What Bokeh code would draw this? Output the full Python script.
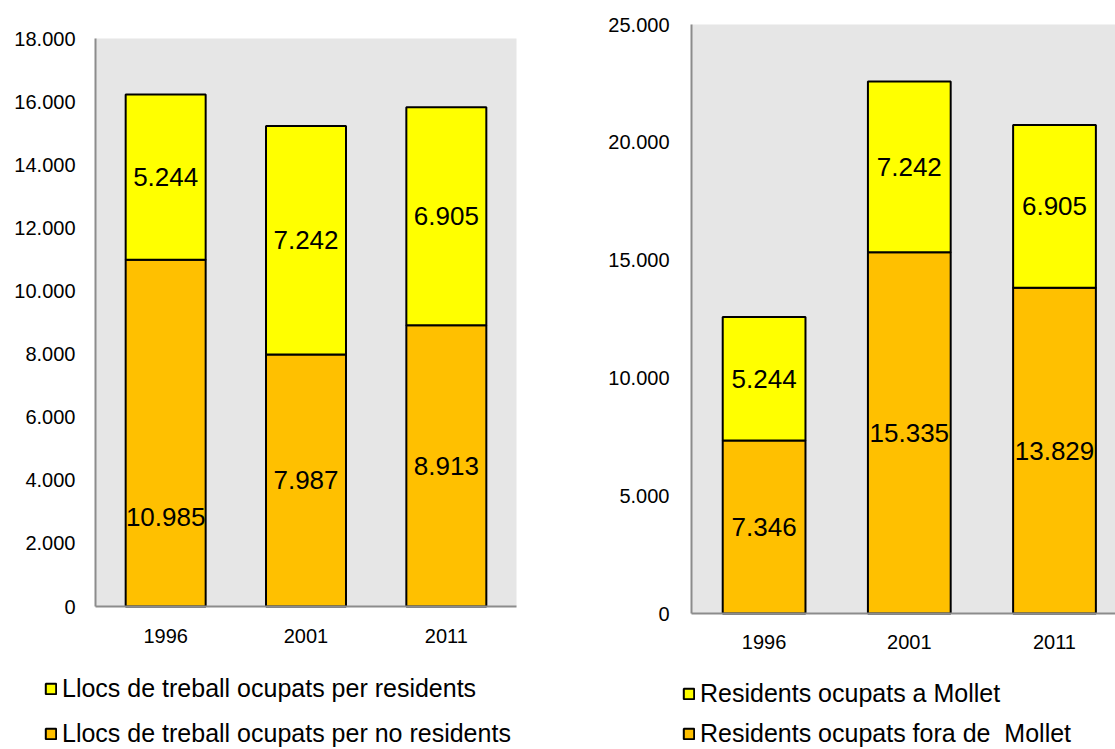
from bokeh.plotting import figure
from bokeh.models import (Range1d, FixedTicker, Legend, LegendItem,
                          ColumnDataSource, LinearAxis)
from bokeh.core.properties import value
from bokeh.embed import file_html
from bokeh.resources import INLINE

# ---------------- data ----------------
years = ["1996", "2001", "2011"]

left_residents = [5244, 7242, 6905]          # yellow (top)
left_non_residents = [10985, 7987, 8913]     # orange (bottom)
left_ticks = [0, 2000, 4000, 6000, 8000, 10000, 12000, 14000, 16000, 18000]
left_legend = ["Llocs de treball ocupats per residents",
               "Llocs de treball ocupats per no residents"]

right_in_mollet = [5244, 7242, 6905]         # yellow (top)
right_outside = [7346, 15335, 13829]         # orange (bottom)
right_ticks = [0, 5000, 10000, 15000, 20000, 25000]
right_legend = ["Residents ocupats a Mollet",
                "Residents ocupats fora de  Mollet"]

# label pixel nudges (style only): the 1996 bottom label of the left chart sits lower
left_bottom_label_dy = [84, 0, 0]
zero_dy = [0, 0, 0]

# ---------------- layout / style ----------------
W, H = 1115, 749
YELLOW = "#FFFF00"
ORANGE = "#FFC000"
BG = "#E6E6E6"
AXIS = "#8C8C8C"
FONT = "Liberation Sans"

LEFT_BOX = dict(px_left=95, px_right=516, px_top=38, px_bottom=606)
RIGHT_BOX = dict(px_left=691, px_right=691 + 3 * 145.2, px_top=24, px_bottom=613)


def fmt(v):
    return f"{v:,}".replace(",", ".")


def ranges(box, ncat, ymax):
    ppu = (box["px_right"] - box["px_left"]) / ncat
    xr = Range1d(-box["px_left"] / ppu, (W - box["px_left"]) / ppu)
    ppv = (box["px_bottom"] - box["px_top"]) / ymax
    yr = Range1d(-(H - box["px_bottom"]) / ppv, box["px_bottom"] / ppv)
    return xr, yr


xl, yl = ranges(LEFT_BOX, len(years), left_ticks[-1])
xr, yr = ranges(RIGHT_BOX, len(years), right_ticks[-1])

p = figure(frame_width=W, frame_height=H, min_border=0,
           x_range=xl, y_range=yl,
           x_axis_location=None, y_axis_location=None,
           output_backend="svg", toolbar_location=None)
p.extra_x_ranges = {"xr": xr}
p.extra_y_ranges = {"yr": yr}
p.title_location = None
p.background_fill_color = "white"
p.border_fill_color = "white"
p.outline_line_color = None
p.xgrid.visible = False
p.ygrid.visible = False


def chart(bottom_vals, top_vals, ticks, legend_labels, *, xname, yname,
          bottom_dy, x_standoff, y_standoff, legend_loc, legend_spacing):
    n = len(years)
    xs = [i + 0.5 for i in range(n)]
    tops = [b + t for b, t in zip(bottom_vals, top_vals)]
    src = ColumnDataSource(dict(
        x=xs, b=bottom_vals, t=tops, zero=[0] * n,
        yb=[b / 2 for b in bottom_vals],
        yt=[(b + tt) / 2 for b, tt in zip(bottom_vals, tops)],
        lb=[fmt(v) for v in bottom_vals], lt=[fmt(v) for v in top_vals],
        dyb=bottom_dy,
    ))
    rn = dict(x_range_name=xname, y_range_name=yname)

    # plot-area background
    p.quad(left=0, right=n, bottom=0, top=ticks[-1], fill_color=BG,
           line_color=None, **rn)

    r_bottom = p.vbar(x="x", width=0.57, bottom="zero", top="b", source=src,
                      fill_color=ORANGE, line_color="black", line_width=2, **rn)
    r_top = p.vbar(x="x", width=0.57, bottom="b", top="t", source=src,
                   fill_color=YELLOW, line_color="black", line_width=2, **rn)

    p.text(x="x", y="yb", text="lb", y_offset="dyb", source=src,
           text_align="center", text_baseline="middle",
           text_font=value(FONT), text_font_size="26px", text_color="black", **rn)
    p.text(x="x", y="yt", text="lt", source=src,
           text_align="center", text_baseline="middle",
           text_font=value(FONT), text_font_size="26px", text_color="black", **rn)

    yax = LinearAxis(fixed_location=0, bounds=(0, ticks[-1]),
                     ticker=FixedTicker(ticks=ticks),
                     major_label_overrides={t: fmt(t) for t in ticks},
                     major_label_standoff=y_standoff, **rn)
    xax = LinearAxis(fixed_location=0, bounds=(0, n),
                     ticker=FixedTicker(ticks=xs),
                     major_label_overrides={x: y for x, y in zip(xs, years)},
                     major_label_standoff=x_standoff, **rn)
    for ax in (xax, yax):
        ax.axis_line_color = AXIS
        ax.axis_line_width = 2
        ax.major_tick_line_color = None
        ax.minor_tick_line_color = None
        ax.major_tick_out = 0
        ax.major_tick_in = 0
        ax.minor_tick_out = 0
        ax.minor_tick_in = 0
        ax.major_label_text_font = FONT
        ax.major_label_text_font_size = "20px"
        ax.major_label_text_color = "black"
    p.add_layout(yax, "left")
    p.add_layout(xax, "below")

    legend = Legend(items=[LegendItem(label=legend_labels[0], renderers=[r_top]),
                           LegendItem(label=legend_labels[1], renderers=[r_bottom])],
                    location=legend_loc, orientation="vertical",
                    glyph_width=13, glyph_height=13, label_standoff=5,
                    label_height=28,
                    spacing=legend_spacing, padding=0, margin=0,
                    border_line_color=None, background_fill_alpha=0,
                    label_text_font=FONT, label_text_font_size="25px",
                    label_text_color="black")
    p.add_layout(legend, "center")


chart(left_non_residents, left_residents, left_ticks, left_legend,
      xname="default", yname="default", bottom_dy=left_bottom_label_dy,
      x_standoff=22, y_standoff=20, legend_loc=(44, 1), legend_spacing=16)

chart(right_outside, right_in_mollet, right_ticks, right_legend,
      xname="xr", yname="yr", bottom_dy=zero_dy,
      x_standoff=21, y_standoff=22, legend_loc=(682, 1), legend_spacing=11)

open("out.html", "w").write(file_html(p, INLINE))
